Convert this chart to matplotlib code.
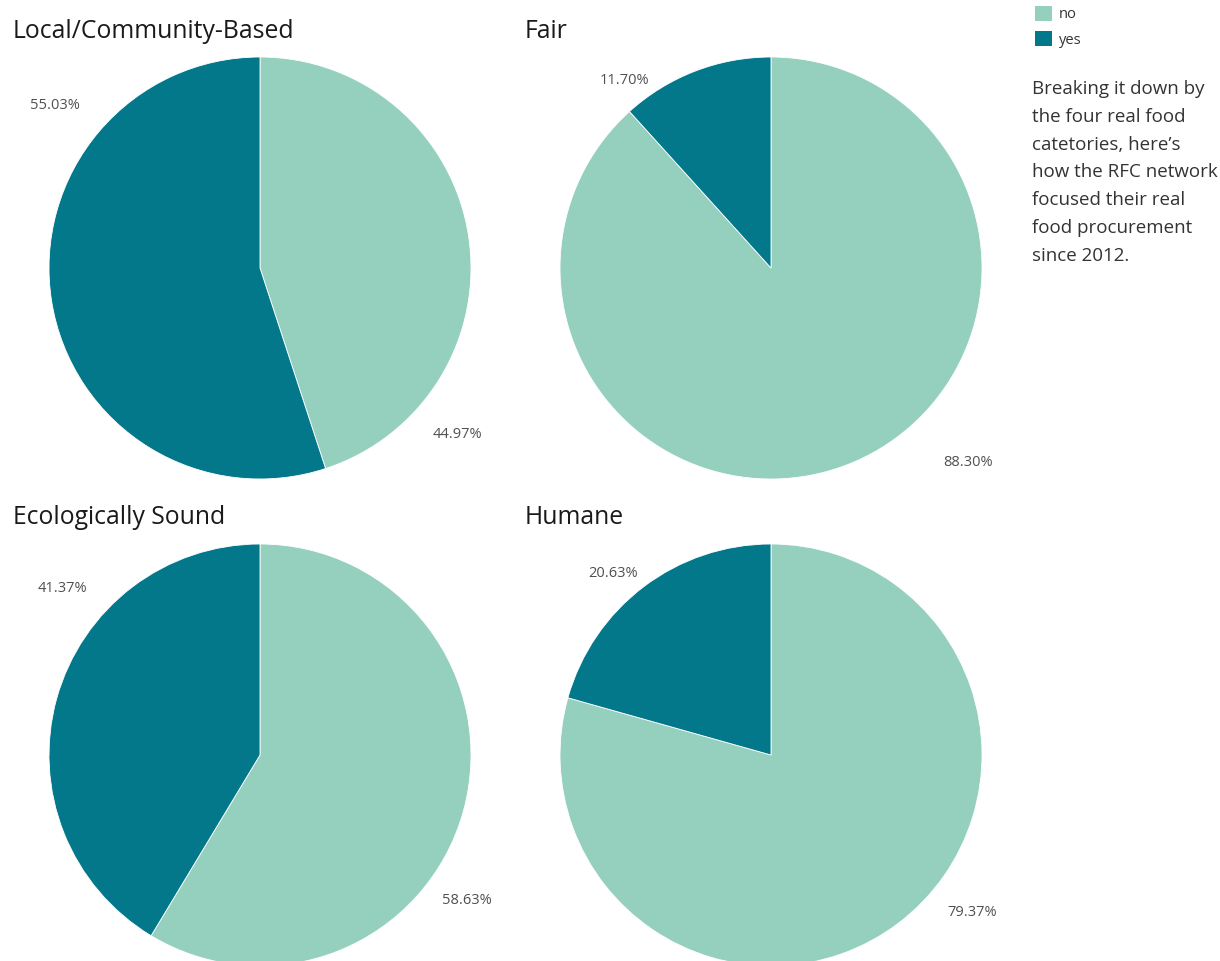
import matplotlib.pyplot as plt
from matplotlib.patches import Rectangle

plt.rcParams['font.family'] = ['Open Sans', 'DejaVu Sans']

categories = ["Local/Community-Based", "Fair", "Ecologically Sound", "Humane"]
no_pct = [44.97, 88.30, 58.63, 79.37]
yes_pct = [55.03, 11.70, 41.37, 20.63]
legend_labels = ["no", "yes"]
note = ("Breaking it down by\nthe four real food\ncatetories, here\u2019s\n"
        "how the RFC network\nfocused their real\nfood procurement\nsince 2012.")

light = "#95d0bf"
dark = "#03788a"

W, H = 1220, 962
fig = plt.figure(figsize=(W / 100, H / 100), dpi=100)

# pie centres, radius and title position in pixels (top-left origin)
centres = [(260, 269), (771, 269), (260, 756), (771, 756)]
radius = 211
title_pos = [(13, 31), (525, 31), (13, 517), (525, 517)]
# label offsets (dx, dy) from centre, pixels, y downward: yes label, no label
label_offsets = [
    [(-205, -163), (197, 166)],
    [(-147, -189), (197, 194)],
    [(-198, -168), (207, 144)],
    [(-158, -182), (201, 156)],
]

for i, name in enumerate(categories):
    cx, cy = centres[i]
    ax = fig.add_axes([(cx - radius) / W, 1 - (cy + radius) / H,
                       2 * radius / W, 2 * radius / H])
    ax.pie([no_pct[i], yes_pct[i]], colors=[light, dark], startangle=90,
           counterclock=False, radius=1,
           wedgeprops=dict(edgecolor="white", linewidth=0.6))
    ax.set_xlim(-1, 1)
    ax.set_ylim(-1, 1)
    ax.set_aspect("auto")
    ax.axis("off")

    (ydx, ydy), (ndx, ndy) = label_offsets[i]
    fig.text((cx + ydx) / W, 1 - (cy + ydy) / H, f"{yes_pct[i]:.2f}%",
             ha="center", va="center", fontsize=10.5, color="#505050")
    fig.text((cx + ndx) / W, 1 - (cy + ndy) / H, f"{no_pct[i]:.2f}%",
             ha="center", va="center", fontsize=10.5, color="#505050")

    tx, ty = title_pos[i]
    fig.text(tx / W, 1 - ty / H, name, ha="left", va="center",
             fontsize=17.8, color="#1a1a1a")

# legend
for j, (lab, col) in enumerate(zip(legend_labels, [light, dark])):
    y = 15 + j * 25
    fig.patches.append(Rectangle(((1035) / W, 1 - (y + 7) / H), 17 / W, 15 / H,
                                 transform=fig.transFigure, facecolor=col,
                                 edgecolor="none"))
    fig.text(1059 / W, 1 - y / H, lab, ha="left", va="center",
             fontsize=10.5, color="#333333")

fig.text(1032 / W, 1 - 80 / H, note, ha="left", va="top", fontsize=13.5,
         color="#333333", linespacing=1.7)

fig.savefig("out.png", dpi=100)
